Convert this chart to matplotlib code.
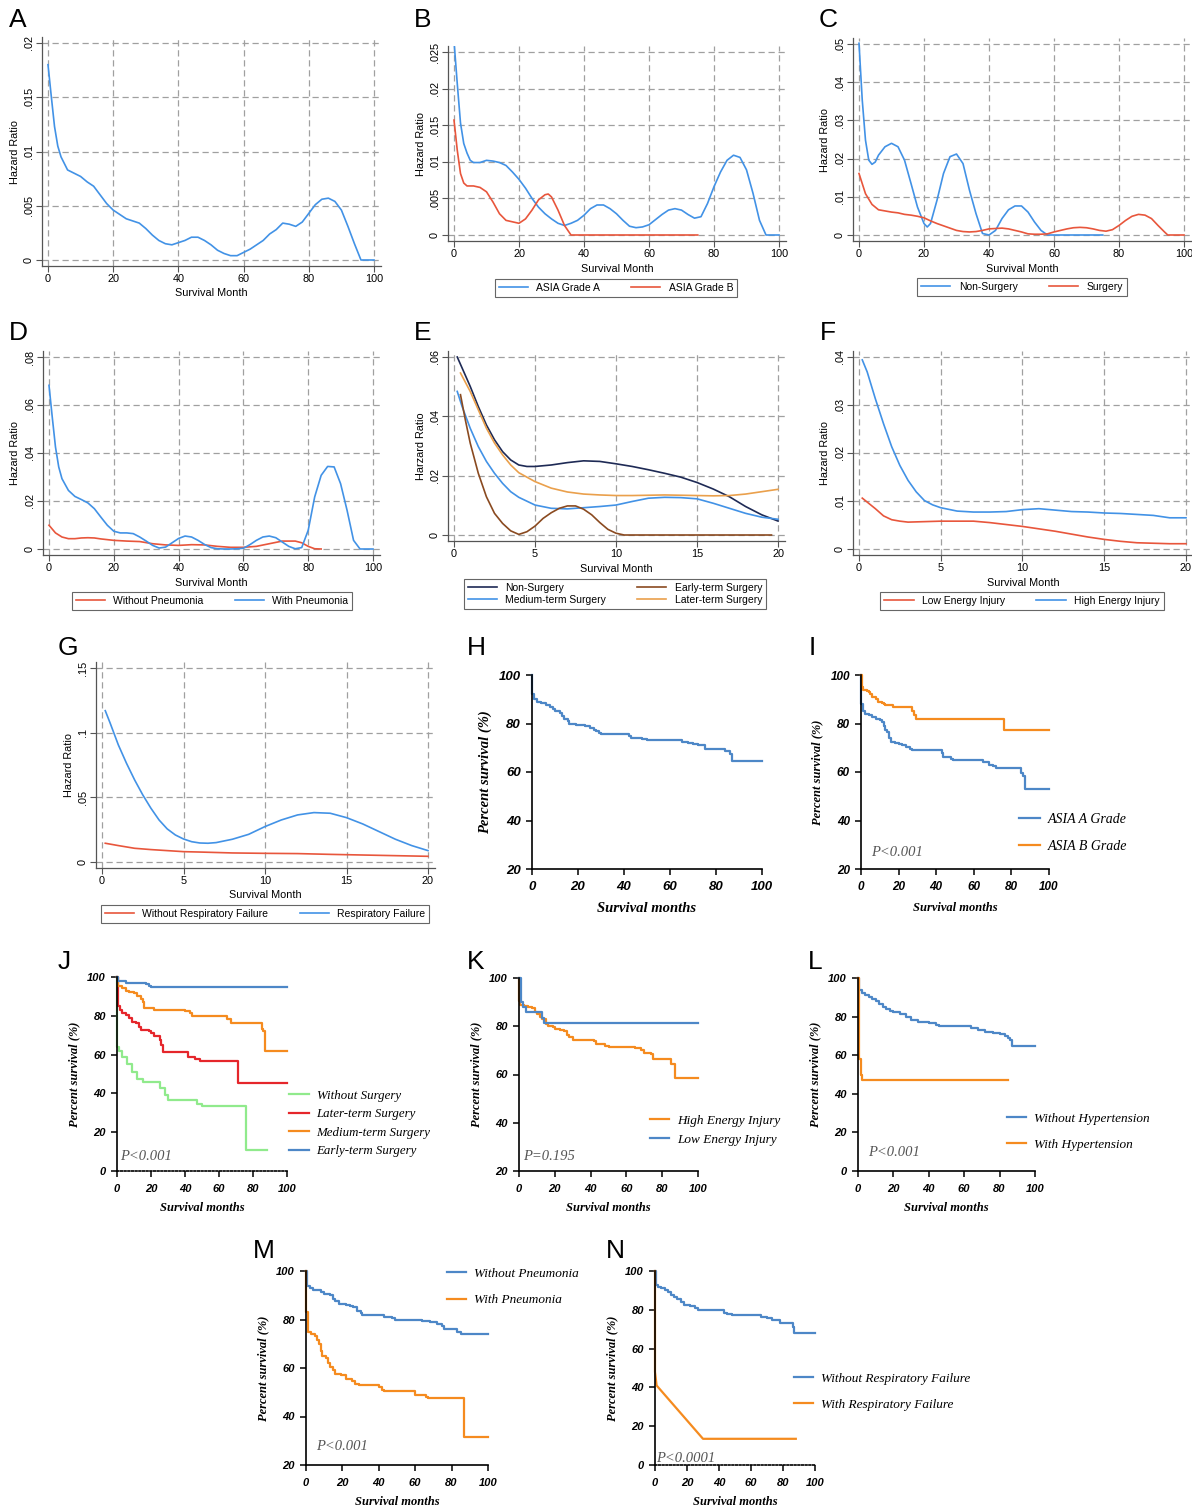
import matplotlib
matplotlib.use("Agg")
import matplotlib.pyplot as plt

plt.rcParams['font.family'] = ['Liberation Sans', 'DejaVu Sans']

W, H = 1192, 1512

# ---------------- hazard curves (Stata panels A-G) ----------------
A_month = [0, 1, 2, 3, 4, 6, 8, 10, 12, 14, 16, 18, 20, 22, 24, 26, 28, 30, 32, 34, 36, 38, 40, 42, 44, 46,
           48, 50, 52, 54, 56, 58, 60, 62, 64, 66, 68, 70, 72, 74, 76, 78, 80, 82, 84, 86, 88, 90, 92, 94, 96, 100]
A_hr = [.018, .0151, .0123, .0105, .0095, .0083, .008, .0077, .0072, .0068, .006, .0052, .0046, .0042, .0038,
        .0036, .0034, .0029, .0023, .0018, .0015, .0014, .0016, .0018, .0021, .0021, .0018, .0014, .0009, .0006,
        .0004, .0004, .0007, .001, .0014, .0018, .0024, .0028, .0034, .0033, .0031, .0035, .0043, .0051, .0056,
        .0057, .0054, .0046, .0031, .0015, 0, 0]

B_month = [0, 1, 2, 3, 4, 5, 6, 8, 10, 12, 14, 16, 18, 20, 22, 24, 26, 28, 30, 32, 34, 36, 38, 40, 42, 44, 46,
           48, 50, 52, 54, 56, 58, 60, 62, 64, 66, 68, 70, 72, 74, 76, 78, 80, 82, 84, 86, 88, 90, 92, 94, 96, 100]
B_gradeA = [.0265, .0207, .0153, .0125, .0112, .0102, .0099, .0099, .0102, .0101, .0099, .0095, .0086, .0076,
            .0064, .005, .0038, .0029, .0022, .0016, .0013, .0016, .002, .0027, .0036, .0041, .0041, .0036, .0029,
            .002, .0012, .001, .0011, .0014, .0021, .0028, .0034, .0036, .0034, .0028, .0023, .0025, .0043, .0066,
            .0086, .0102, .0109, .0106, .0089, .0057, .002, 0, 0]
B_gradeB_month = [0, 1, 2, 3, 4, 6, 8, 10, 12, 14, 16, 18, 20, 22, 24, 26, 28, 29, 30, 32, 34, 36, 75]
B_gradeB = [.0157, .0116, .0084, .0071, .0067, .0067, .0065, .0059, .0045, .0029, .002, .0018, .0016, .0022,
            .0034, .0048, .0055, .0056, .0052, .0034, .0013, 0, 0]

C_non_month = [0, 1, 2, 3, 4, 5, 6, 8, 10, 12, 14, 16, 18, 20, 21, 22, 24, 26, 28, 30, 32, 34, 36, 38, 40, 42,
               44, 46, 48, 50, 52, 54, 56, 58, 75]
C_non = [.0502, .0353, .0248, .0196, .0185, .0191, .0209, .0231, .024, .0231, .0196, .0135, .0073, .003, .0021,
         .003, .0091, .0161, .0205, .0212, .0187, .0117, .0056, .0004, 0, .0012, .0043, .0066, .0076, .0076, .006,
         .0034, .0012, 0, 0]
C_surg_month = [0, 2, 4, 6, 8, 10, 12, 14, 16, 18, 20, 22, 24, 26, 28, 30, 32, 34, 36, 38, 40, 42, 44, 46, 48,
                50, 52, 54, 56, 58, 60, 62, 64, 66, 68, 70, 72, 74, 76, 78, 80, 82, 84, 86, 88, 90, 92, 94, 95, 100]
C_surg = [.0161, .0108, .008, .0066, .0063, .006, .0058, .0054, .0052, .0049, .0045, .0037, .003, .0024, .0018,
          .0012, .0009, .0008, .0009, .0012, .0016, .0017, .0018, .0016, .0012, .0008, .0003, .0002, .0002, .0003,
          .0008, .0012, .0016, .0019, .002, .0019, .0016, .0012, .001, .0014, .0025, .0038, .0049, .0054, .0052,
          .0043, .0025, .0008, 0, 0]

D_with_month = [0, 1, 2, 3, 4, 6, 8, 10, 12, 14, 16, 18, 20, 22, 24, 26, 28, 30, 32, 34, 36, 38, 40, 42, 44, 46,
                48, 50, 52, 54, 56, 58, 60, 62, 64, 66, 68, 70, 72, 74, 76, 78, 80, 82, 84, 86, 88, 90, 92, 94, 96,
                100]
D_with = [.0682, .055, .0425, .0342, .0293, .0244, .0219, .0206, .0192, .0168, .0133, .0099, .0074, .0067, .0067,
          .0064, .005, .0033, .0015, .0004, .0008, .0026, .0044, .0054, .005, .0036, .0019, .0006, .0001, 0, 0,
          .0001, .0003, .0018, .0036, .005, .0054, .0047, .0029, .0011, .0001, .0006, .0078, .0217, .0307, .0344,
          .0342, .0272, .0161, .0036, 0, 0]
D_without_month = [0, 2, 4, 6, 8, 10, 12, 14, 16, 18, 20, 24, 28, 32, 36, 40, 44, 48, 52, 56, 60, 64, 68, 72, 76,
                   78, 80, 82, 84]
D_without = [.0099, .0067, .005, .0043, .0043, .0046, .0047, .0046, .0042, .0039, .0036, .0033, .0031, .0022,
             .0017, .0015, .0018, .0017, .0011, .0007, .0007, .0011, .0022, .0033, .0033, .0026, .0011, .0001, 0]

E_non_month = [0.2, 0.5, 1, 1.5, 2, 2.5, 3, 3.5, 4, 4.5, 5, 6, 7, 8, 9, 10, 11, 12, 13, 14, 15, 16, 17, 18, 19, 20]
E_non = [.06, .0563, .0501, .0433, .0371, .0321, .0281, .0253, .0236, .0231, .0231, .0236, .0244, .025, .0248,
         .024, .0231, .022, .0208, .0195, .0177, .0155, .0129, .0096, .0068, .0047]
E_early_month = [0.4, 0.7, 1, 1.5, 2, 2.5, 3, 3.5, 4, 4.5, 5, 5.5, 6, 6.5, 7, 7.5, 8, 8.5, 9, 9.5, 10, 10.5, 19.6]
E_early = [.0473, .0388, .031, .0208, .0129, .0073, .0039, .0014, .0002, .0011, .003, .0056, .0075, .009, .0098,
           .0098, .0087, .0068, .0042, .0019, .0006, 0, 0]
E_medium_month = [0.2, 0.5, 1, 1.5, 2, 2.5, 3, 3.5, 4, 5, 6, 7, 8, 9, 10, 11, 12, 13, 14, 15, 16, 17, 18, 19, 20]
E_medium = [.0484, .0433, .036, .0298, .0248, .0208, .0174, .0146, .0127, .0101, .009, .0088, .0092, .0096, .0101,
            .0113, .0124, .0127, .0126, .0122, .0107, .009, .0073, .006, .0053]
E_later_month = [0.4, 1, 1.5, 2, 2.5, 3, 3.5, 4, 5, 6, 7, 8, 9, 10, 11, 12, 13, 14, 15, 16, 17, 18, 19, 20]
E_later = [.0546, .0484, .0422, .036, .031, .027, .0236, .021, .018, .0158, .0145, .0138, .0135, .0133, .0133,
           .0134, .0135, .0134, .0133, .0132, .0133, .0138, .0146, .0154]

F_high_month = [0.2, 0.5, 1, 1.5, 2, 2.5, 3, 3.5, 4, 4.5, 5, 6, 7, 8, 9, 10, 11, 12, 13, 14, 15, 16, 17, 18, 19, 20]
F_high = [.0394, .0369, .0313, .0261, .0213, .0174, .0143, .0119, .0101, .0092, .0086, .0079, .0077, .0077, .0078,
          .0082, .0084, .0081, .0078, .0077, .0075, .0074, .0072, .007, .0065, .0065]
F_low_month = [0.2, 1, 1.5, 2, 2.5, 3, 4, 5, 6, 7, 8, 9, 10, 11, 12, 13, 14, 15, 16, 17, 18, 19, 20]
F_low = [.0106, .0084, .0069, .0061, .0058, .0056, .0057, .0058, .0058, .0058, .0055, .0051, .0047, .0042, .0037,
         .0031, .0025, .002, .0016, .0013, .0012, .0011, .0011]

G_rf_month = [0.2, 0.5, 1, 1.5, 2, 2.5, 3, 3.5, 4, 4.5, 5, 5.5, 6, 6.5, 7, 8, 9, 10, 11, 12, 13, 14, 15, 16, 17, 18,
              19, 20]
G_rf = [.117, .1074, .0906, .0764, .0635, .0519, .0416, .0325, .0256, .0209, .0178, .0157, .0147, .0145, .015,
        .0176, .0214, .0274, .0325, .0364, .0382, .0377, .0343, .0294, .0235, .0176, .0127, .0088]
G_norf_month = [0.2, 1, 2, 3, 4, 5, 6, 8, 10, 12, 14, 16, 18, 20]
G_norf = [.0145, .0127, .0106, .0096, .0088, .008, .0077, .007, .0067, .0065, .0059, .0054, .0049, .0044]

# ---------------- Kaplan-Meier curves (panels H-N) ----------------
H_month = [0, 0.2, 1, 2, 4, 6, 8, 9, 10, 12, 13, 14, 15.5, 16, 19, 20, 23, 25, 27, 28, 29, 30, 40, 42, 43, 48, 50,
           64, 65, 68, 70, 72, 75, 83, 84, 86, 87, 100]
H_surv = [100, 92, 90, 89, 88.5, 87.5, 87, 86, 85, 84.3, 83, 82, 81, 80, 79.5, 79.2, 78.8, 78.3, 77.5, 76.8, 76,
          75.5, 75.5, 74.8, 74, 73.5, 73.2, 73.2, 72.5, 72, 71.5, 71, 69.3, 69.3, 68.5, 67.5, 64.5, 64.5]

I_B_month = [0, 0.3, 1, 3, 4, 5, 6, 8, 9, 11, 12, 13, 17, 20, 26, 27, 28, 29, 75, 76, 100]
I_B = [100, 95, 94, 93.5, 93, 92, 91, 90, 89, 88.5, 88, 87.5, 87, 86.8, 86.8, 85, 83.5, 82, 82, 77.5, 77.5]
I_A_month = [0, 0.2, 1, 2, 4, 6, 8, 10, 11, 12, 13, 14, 15, 16, 18, 20, 22, 24, 26, 27, 42, 43, 43.5, 48, 49, 64,
             65, 68, 70, 72, 84, 85, 86, 87, 100]
I_A = [100, 88, 85, 84, 83.3, 82.5, 82, 81.5, 80.5, 79, 77.5, 76.5, 74, 72.5, 72, 71.5, 71, 70.5, 69.5, 69, 69, 68,
       66.3, 65.5, 65, 65, 64, 63, 62.5, 61.5, 61.5, 59.5, 58.5, 53, 53]

J_early_month = [0, 0.5, 5, 17, 19, 20, 100]
J_early = [100, 98, 97, 96.5, 95.5, 94.8, 94.8]
J_medium_month = [0, 0.3, 3, 5, 7, 10, 12, 14, 15, 16, 22, 40, 43, 44, 64, 65, 67, 84, 85, 86, 87, 100]
J_medium = [100, 95.5, 94.5, 93, 92.5, 91.5, 90, 88.5, 87, 84, 83, 82.5, 81.5, 80, 80, 78.5, 76.5, 76.5, 73, 72,
            62, 62]
J_later_month = [0, 0.3, 0.8, 1.5, 3, 5, 7, 9, 11, 13, 14, 19, 20, 22, 25, 26, 27, 40, 42, 46, 49, 68, 71, 100]
J_later = [100, 90, 85, 83, 81.5, 80.5, 79, 77, 76.5, 74, 72.5, 72, 71, 69.5, 67.5, 65, 61.5, 61.5, 59, 57.5, 56.5,
           56.5, 45.5, 45.5]
J_without_month = [0, 0.2, 1, 3, 6, 9, 12, 15, 22, 25, 28, 30, 44, 47, 50, 75, 76, 88]
J_without = [100, 64, 62, 59, 55, 51, 47.5, 46, 46, 43, 39, 36.5, 36.5, 34.5, 33.5, 33.5, 11, 11]

K_low_month = [0, 1, 2, 4, 12, 13, 14, 100]
K_low = [100, 90, 88, 86, 86, 83.5, 81.5, 81.5]
K_high_month = [0, 0.2, 0.7, 3, 5, 7, 9, 10, 12, 13, 15, 16, 19, 20, 23, 25, 27, 28, 30, 42, 43, 48, 50, 64, 65,
                68, 70, 74, 75, 83, 85, 87, 100]
K_high = [100, 90.5, 89, 88.5, 88, 87.5, 86, 85, 84, 83, 81, 80, 79.5, 79, 78.5, 78, 76.5, 75.5, 74.5, 74, 72.5,
          72, 71.5, 71.5, 71, 70, 69, 68.5, 66.5, 66.5, 64.5, 58.5, 58.5]

L_without_month = [0, 0.5, 2, 4, 6, 8, 10, 12, 14, 16, 18, 20, 24, 27, 30, 34, 40, 44, 46, 62, 64, 68, 72, 76, 80,
                   83, 85, 86, 87, 100]
L_without = [100, 94, 92, 91, 90, 89, 88, 86.5, 85, 84, 83, 82.5, 81.5, 80, 78, 77, 76.5, 75.5, 75, 75, 74, 73,
             72, 71.5, 71, 70, 69, 68, 64.8, 64.8]
L_with_month = [0, 0.3, 0.8, 1.5, 2, 85]
L_with = [100, 75, 58, 50, 47, 47]

M_without_month = [0, 0.5, 2, 4, 8, 10, 13, 15, 16, 18, 22, 24, 26, 28, 30, 31, 42, 43, 47, 49, 63, 64, 68, 72, 75,
                   76, 82, 83, 85, 100]
M_without = [100, 94, 93, 92, 91.5, 90.5, 90, 88.5, 87.5, 86.5, 86, 85.5, 85, 83.5, 82.5, 82, 82, 81, 80.5, 80, 80,
             79.5, 79, 78, 77.5, 76, 76, 75, 74, 74]
M_with_month = [0, 0.2, 1, 3, 5, 6, 7, 8, 9, 11, 12, 13, 15, 16, 19, 22, 25, 27, 29, 37, 40, 42, 43, 55, 60, 66,
                67, 84, 87, 100]
M_with = [100, 83, 75, 74, 73, 71.5, 70, 67, 65, 64, 62, 60.5, 59, 57.5, 57, 55.5, 54.5, 53.5, 53, 53, 52, 51,
          50.5, 50.5, 49, 48, 47.5, 47.5, 31.5, 31.5]

N_without_month = [0, 0.5, 2, 4, 6, 8, 10, 12, 14, 16, 18, 22, 25, 27, 40, 43, 45, 48, 64, 66, 70, 73, 76, 78, 85,
                   86, 87, 100]
N_without = [100, 93, 92, 91, 90, 89, 87.5, 86.5, 85.5, 84, 82.5, 82, 81, 80, 80, 78.5, 78, 77.5, 77.5, 76.5, 76,
             75, 74.5, 73, 73, 71, 68, 68]
N_with_month = [0, 0, 1, 30, 88]
N_with = [100, 48, 41, 13.5, 13.5]

# colours
S_BLUE, S_RED = '#4292e6', '#e8563c'
S_NAVY, S_BROWN, S_ORANGE = '#1e2a55', '#8a4a20', '#eaa04c'
P_BLUE, P_ORANGE, P_RED, P_GREEN = '#4d87c7', '#f58b1f', '#e5262b', '#90ea8c'

fig = plt.figure(figsize=(W / 100, H / 100), dpi=100)


def box(x0, x1, ytop, ybot):
    return [x0 / W, 1 - ybot / H, (x1 - x0) / W, (ybot - ytop) / H]


def ftext(px, py, s, **kw):
    fig.text(px / W, 1 - py / H, s, **kw)


def stata_panel(letter, lpos, px, xmax, xticks, yticks, ylabels, curves, ylabel='Hazard Ratio',
                legend_c=None, ncol=2):
    xa, xb, ya, yb = px  # pixel of x=0, x=xmax, y=0, y=ymax
    ymax = yticks[-1]
    sx = (xb - xa) / xmax
    sy = (ya - yb) / ymax
    ax = fig.add_axes(box(xa - 6, xb + 7, yb - 6, ya + 6))
    ax.set_xlim(-6 / sx, xmax + 7 / sx)
    ax.set_ylim(-6 / sy, ymax + 6 / sy)
    for xs, ys, c, lab in curves:
        ax.plot(xs, ys, color=c, lw=1.2, label=lab)
    ax.set_xticks(xticks)
    ax.set_yticks(yticks)
    ax.set_yticklabels(ylabels, rotation=90, va='center')
    ax.set_axisbelow(True)
    ax.grid(True, color='#a0a0a0', ls=(0, (5, 3)), lw=0.9)
    for s in ['top', 'right']:
        ax.spines[s].set_visible(False)
    for s in ['left', 'bottom']:
        ax.spines[s].set_color('#555555')
        ax.spines[s].set_linewidth(0.9)
    ax.tick_params(direction='out', length=4, width=0.8, color='#555555', labelsize=7.8, pad=2)
    ax.set_xlabel('Survival Month', fontsize=7.8, labelpad=3)
    ax.set_ylabel(ylabel, fontsize=7.8, labelpad=3)
    ftext(lpos[0], lpos[1], letter, fontsize=19, ha='center', va='center')
    if legend_c is not None:
        leg = ax.legend(loc='center', bbox_to_anchor=(legend_c[0] / W, 1 - legend_c[1] / H),
                        bbox_transform=fig.transFigure, ncol=ncol, fontsize=7.5, frameon=True,
                        fancybox=False, framealpha=1, edgecolor='#666666', borderpad=0.4,
                        handlelength=2.8, handletextpad=0.8, columnspacing=3.0, labelspacing=0.2)
        leg.get_frame().set_linewidth(0.8)
    return ax


def prism_panel(letter, lpos, px, ymin, curves, tick_fs=8, lab_fs=9, leg_fs=9.5, legend=None, pval=None,
                dotted=False):
    xa, xb, ya, yb = px  # pixel of x=0, x=100, y=ymin, y=100
    ax = fig.add_axes(box(xa, xb, yb, ya))
    ax.set_xlim(0, 100)
    ax.set_ylim(ymin, 100)
    for xs, ys, c, lab, kind in curves:
        if kind == 'step':
            ax.step(xs, ys, where='post', color=c, lw=1.6, label=lab, clip_on=False)
        else:
            ax.plot(xs, ys, color=c, lw=1.6, label=lab, clip_on=False)
    ax.set_xticks([0, 20, 40, 60, 80, 100])
    ax.set_yticks(list(range(ymin, 101, 20)))
    for s in ['top', 'right']:
        ax.spines[s].set_visible(False)
    for s in ['left', 'bottom']:
        ax.spines[s].set_linewidth(1.2)
    if dotted:
        ax.spines['bottom'].set_linestyle((0, (1, 1.2)))
    ax.tick_params(direction='out', length=4, width=1.1, labelsize=tick_fs)
    ax.tick_params(axis='x', pad=5)
    ax.tick_params(axis='y', pad=4)
    for t in ax.get_xticklabels() + ax.get_yticklabels():
        t.set_fontweight('bold')
        t.set_fontstyle('italic')
    font = dict(family='Liberation Serif', weight='bold', style='italic', fontsize=lab_fs)
    ax.set_xlabel('Survival months', labelpad=6, **font)
    ax.set_ylabel('Percent survival (%)', labelpad=5, **font)
    ftext(lpos[0], lpos[1], letter, fontsize=19, ha='center', va='center')
    if legend is not None:
        lx, ly, sp = legend
        ax.legend(loc='center left', bbox_to_anchor=(lx / W, 1 - ly / H), bbox_transform=fig.transFigure,
                  frameon=False, borderpad=0, handlelength=1.5, handletextpad=0.6, labelspacing=sp,
                  prop=dict(family='Liberation Serif', style='italic', size=leg_fs))
    if pval is not None:
        ftext(pval[0], pval[1], pval[2], ha='left', va='center', family='Liberation Serif', style='italic',
              color='#555555', fontsize=lab_fs + 1.5)
    return ax


x100 = [0, 20, 40, 60, 80, 100]
x20 = [0, 5, 10, 15, 20]

stata_panel('A', (18, 20), (48, 374, 260, 43), 100, x100,
            [0, .005, .01, .015, .02], ['0', '.005', '.01', '.015', '.02'],
            [(A_month, A_hr, S_BLUE, None)])
stata_panel('B', (423, 20), (454, 779, 235, 52), 100, x100,
            [0, .005, .01, .015, .02, .025], ['0', '.005', '.01', '.015', '.02', '.025'],
            [(B_month, B_gradeA, S_BLUE, 'ASIA Grade A'), (B_gradeB_month, B_gradeB, S_RED, 'ASIA Grade B')],
            legend_c=(616, 288))
stata_panel('C', (828, 20), (859, 1184, 235, 44), 100, x100,
            [0, .01, .02, .03, .04, .05], ['0', '.01', '.02', '.03', '.04', '.05'],
            [(C_non_month, C_non, S_BLUE, 'Non-Surgery'), (C_surg_month, C_surg, S_RED, 'Surgery')],
            legend_c=(1022, 287))
stata_panel('D', (18, 333), (49, 373, 549, 357), 100, x100,
            [0, .02, .04, .06, .08], ['0', '.02', '.04', '.06', '.08'],
            [(D_without_month, D_without, S_RED, 'Without Pneumonia'),
             (D_with_month, D_with, S_BLUE, 'With Pneumonia')],
            legend_c=(212, 601))
stata_panel('E', (423, 333), (454, 778, 535, 357), 20, x20,
            [0, .02, .04, .06], ['0', '.02', '.04', '.06'],
            [(E_non_month, E_non, S_NAVY, 'Non-Surgery'),
             (E_medium_month, E_medium, S_BLUE, 'Medium-term Surgery'),
             (E_early_month, E_early, S_BROWN, 'Early-term Surgery'),
             (E_later_month, E_later, S_ORANGE, 'Later-term Surgery')],
            ylabel='Harzard Ratio', legend_c=(615, 594))
stata_panel('F', (828, 333), (859, 1186, 549, 357), 20, x20,
            [0, .01, .02, .03, .04], ['0', '.01', '.02', '.03', '.04'],
            [(F_low_month, F_low, S_RED, 'Low Energy Injury'), (F_high_month, F_high, S_BLUE, 'High Energy Injury')],
            legend_c=(1022, 601))
stata_panel('G', (68, 648), (102, 428, 862, 668), 20, x20,
            [0, .05, .1, .15], ['0', '.05', '.1', '.15'],
            [(G_norf_month, G_norf, S_RED, 'Without Respiratory Failure'),
             (G_rf_month, G_rf, S_BLUE, 'Respiratory Failure')],
            legend_c=(265, 914))

prism_panel('H', (476, 648), (532, 762, 869, 675), 20,
            [(H_month, H_surv, P_BLUE, None, 'step')], tick_fs=9.5, lab_fs=10.5)
prism_panel('I', (812, 648), (861, 1049, 869, 675), 20,
            [(I_A_month, I_A, P_BLUE, 'ASIA A Grade', 'step'), (I_B_month, I_B, P_ORANGE, 'ASIA B Grade', 'step')],
            tick_fs=8.5, lab_fs=9, leg_fs=10, legend=(1012, 833, 1.0), pval=(871, 852, 'P<0.001'))
prism_panel('J', (64, 962), (117, 287, 1171, 977), 0,
            [(J_without_month, J_without, P_GREEN, 'Without Surgery', 'step'),
             (J_later_month, J_later, P_RED, 'Later-term Surgery', 'step'),
             (J_medium_month, J_medium, P_ORANGE, 'Medium-term Surgery', 'step'),
             (J_early_month, J_early, P_BLUE, 'Early-term Surgery', 'step')],
            tick_fs=8, lab_fs=9, leg_fs=9.3, legend=(283, 1123.5, 0.5), pval=(120, 1157, 'P<0.001'), dotted=True)
prism_panel('K', (476, 962), (519, 698, 1171, 978), 20,
            [(K_high_month, K_high, P_ORANGE, 'High Energy Injury', 'step'),
             (K_low_month, K_low, P_BLUE, 'Low Energy Injury', 'step')],
            tick_fs=8, lab_fs=9, leg_fs=9.5, legend=(643, 1130, 0.5), pval=(523, 1156, 'P=0.195'))
prism_panel('L', (815, 962), (858, 1035, 1171, 978), 0,
            [(L_without_month, L_without, P_BLUE, 'Without Hypertension', 'step'),
             (L_with_month, L_with, P_ORANGE, 'With Hypertension', 'step')],
            tick_fs=8, lab_fs=9, leg_fs=9.5, legend=(1000, 1131.5, 1.05), pval=(868, 1153, 'P<0.001'))
prism_panel('M', (264, 1251), (306, 488, 1465, 1271), 20,
            [(M_without_month, M_without, P_BLUE, 'Without Pneumonia', 'step'),
             (M_with_month, M_with, P_ORANGE, 'With Pneumonia', 'step')],
            tick_fs=8, lab_fs=9, leg_fs=9.5, legend=(440, 1287, 1.05), pval=(316, 1447, 'P<0.001'))
prism_panel('N', (615, 1251), (655, 815, 1465, 1271), 0,
            [(N_without_month, N_without, P_BLUE, 'Without Respiratory Failure', 'step'),
             (N_with_month, N_with, P_ORANGE, 'With Respiratory Failure', 'line')],
            tick_fs=8, lab_fs=9, leg_fs=9.5, legend=(787, 1391.5, 1.05), pval=(656, 1458, 'P<0.0001'),
            dotted=True)

fig.savefig('out.png', dpi=100)
